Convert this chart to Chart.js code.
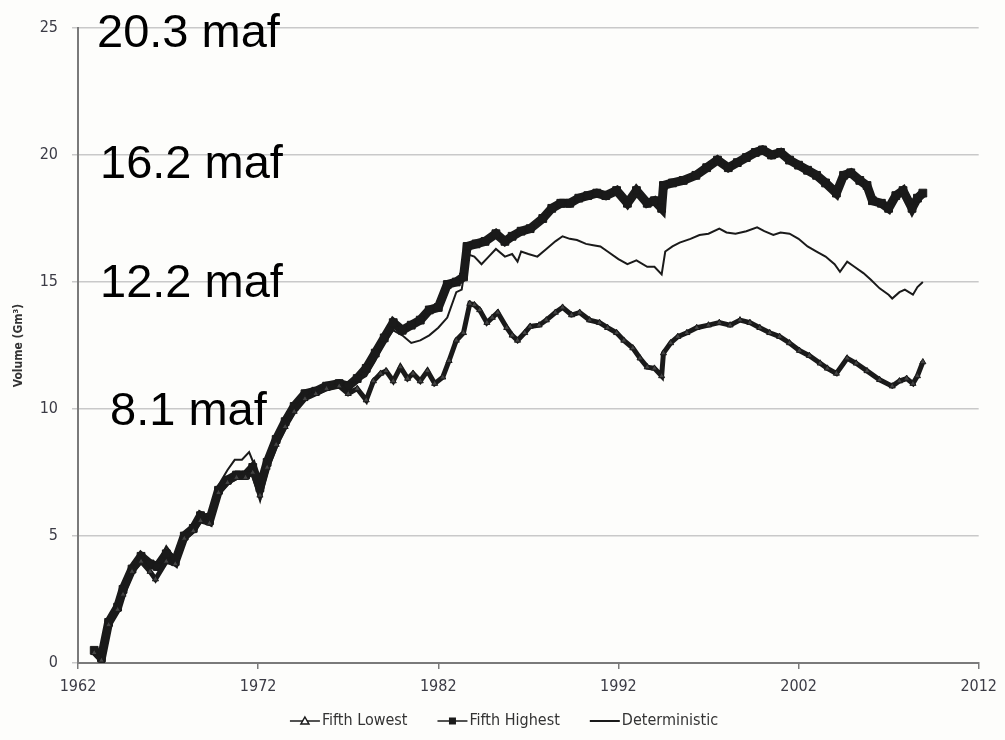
<!DOCTYPE html>
<html>
<head>
<meta charset="utf-8">
<script src="https://cdn.jsdelivr.net/npm/chart.js@4.4.1/dist/chart.umd.min.js"></script>
<style>
  html, body { margin: 0; padding: 0; background: #fdfdfb; }
  #wrap { width: 1005px; height: 740px; }
</style>
</head>
<body>
<div id="wrap"><canvas id="volume-chart" width="1005" height="740"></canvas></div>
<script>
// years and simulated reservoir volume (Gm3)
const lowYears = [1962.9,1963.3,1963.7,1964.2,1964.5,1965.0,1965.5,1966.0,1966.3,1966.9,1967.4,1967.9,1968.4,1968.8,1969.3,1969.8,1970.3,1970.8,1971.3,1971.7,1972.1,1972.5,1973.0,1973.5,1974.0,1974.6,1975.2,1975.8,1976.5,1977.0,1977.5,1978.0,1978.4,1978.8,1979.1,1979.5,1979.9,1980.3,1980.6,1981.0,1981.4,1981.8,1982.25,1982.6,1983.0,1983.4,1983.75,1984.0,1984.3,1984.7,1985.0,1985.3,1985.8,1986.1,1986.4,1986.8,1987.1,1987.6,1988.0,1988.5,1988.9,1989.4,1989.85,1990.4,1990.95,1991.4,1991.9,1992.3,1992.8,1993.2,1993.6,1994.0,1994.4,1994.5,1994.9,1995.3,1995.8,1996.35,1997.0,1997.6,1998.2,1998.75,1999.3,1999.85,2000.4,2000.95,2001.5,2002.05,2002.6,2003.2,2003.6,2004.1,2004.7,2005.2,2005.8,2006.5,2007.2,2007.6,2008.0,2008.35,2008.6,2008.9];
const lowVals = [0.4,0.1,1.5,2.1,2.7,3.6,4.0,3.6,3.3,4.0,3.9,4.9,5.2,5.6,5.5,6.7,7.1,7.3,7.3,7.5,6.6,7.7,8.6,9.3,9.9,10.4,10.6,10.8,10.9,10.6,10.8,10.35,11.1,11.4,11.5,11.1,11.65,11.2,11.4,11.1,11.5,11.0,11.25,11.9,12.7,13.0,14.15,14.1,13.9,13.4,13.6,13.8,13.2,12.9,12.7,13.0,13.25,13.3,13.5,13.8,14.0,13.7,13.8,13.5,13.4,13.2,13.0,12.7,12.4,12.0,11.65,11.6,11.3,12.2,12.6,12.85,13.0,13.2,13.3,13.4,13.3,13.5,13.4,13.2,13.0,12.85,12.6,12.3,12.1,11.8,11.6,11.4,12.0,11.8,11.5,11.15,10.9,11.1,11.2,11.0,11.3,11.85];

const highYears = [1962.9,1963.3,1963.7,1964.2,1964.5,1965.0,1965.5,1966.0,1966.4,1966.9,1967.4,1967.9,1968.4,1968.8,1969.3,1969.8,1970.3,1970.8,1971.3,1971.7,1972.1,1972.5,1973.0,1973.5,1974.0,1974.6,1975.2,1975.8,1976.5,1977.0,1977.5,1978.0,1978.5,1979.0,1979.5,1980.0,1980.5,1981.0,1981.5,1982.0,1982.5,1983.0,1983.4,1983.6,1984.1,1984.6,1985.2,1985.7,1986.1,1986.6,1987.1,1987.8,1988.3,1988.8,1989.3,1989.8,1990.3,1990.8,1991.3,1991.9,1992.5,1993.0,1993.6,1994.0,1994.4,1994.5,1995.0,1995.6,1996.3,1996.9,1997.5,1998.1,1998.6,1999.1,1999.6,2000.0,2000.5,2001.0,2001.5,2002.0,2002.5,2003.0,2003.5,2004.1,2004.5,2004.9,2005.4,2005.8,2006.1,2006.6,2007.0,2007.4,2007.8,2008.3,2008.6,2008.9];
const highVals = [0.5,0.2,1.6,2.2,2.9,3.7,4.2,3.9,3.8,4.3,4.0,5.0,5.3,5.8,5.6,6.8,7.2,7.4,7.4,7.7,6.9,7.9,8.8,9.5,10.1,10.6,10.7,10.9,11.0,10.9,11.2,11.6,12.2,12.8,13.4,13.1,13.3,13.5,13.9,14.0,14.9,15.0,15.2,16.4,16.5,16.6,16.9,16.6,16.8,17.0,17.1,17.5,17.9,18.1,18.1,18.3,18.4,18.5,18.4,18.6,18.1,18.6,18.1,18.2,17.9,18.8,18.9,19.0,19.2,19.5,19.8,19.5,19.7,19.9,20.1,20.2,20.0,20.1,19.8,19.6,19.4,19.2,18.9,18.5,19.2,19.3,19.0,18.8,18.2,18.1,17.9,18.4,18.6,17.9,18.3,18.5];

const detYears = [1962.9,1963.3,1963.7,1964.2,1964.5,1965.0,1965.5,1966.0,1966.4,1966.9,1967.4,1967.9,1968.4,1968.8,1969.3,1969.8,1970.3,1970.7,1971.1,1971.5,1971.9,1972.2,1972.6,1973.0,1973.5,1974.0,1974.6,1975.2,1975.8,1976.5,1977.0,1977.5,1978.0,1978.5,1979.0,1979.5,1980.0,1980.5,1981.0,1981.5,1982.0,1982.5,1983.0,1983.3,1983.6,1984.0,1984.4,1984.8,1985.2,1985.7,1986.1,1986.4,1986.6,1987.0,1987.5,1988.0,1988.5,1988.9,1989.3,1989.7,1990.2,1990.6,1991.0,1991.4,1992.0,1992.5,1993.0,1993.6,1994.0,1994.4,1994.6,1995.0,1995.4,1996.0,1996.5,1997.0,1997.6,1998.0,1998.5,1999.1,1999.7,2000.1,2000.6,2001.0,2001.5,2002.0,2002.5,2003.0,2003.5,2004.0,2004.3,2004.7,2005.1,2005.6,2006.0,2006.5,2007.0,2007.2,2007.6,2007.9,2008.35,2008.6,2008.9];
const detVals = [0.5,0.3,1.7,2.3,3.0,3.9,4.3,4.0,3.9,4.6,4.1,5.1,5.3,5.8,5.9,7.0,7.6,8.0,8.0,8.3,7.6,7.2,8.2,8.9,9.6,10.2,10.6,10.8,10.8,11.0,10.8,11.1,11.3,11.9,12.6,13.1,12.9,12.6,12.7,12.9,13.2,13.6,14.6,14.7,16.1,16.0,15.7,16.0,16.3,16.0,16.1,15.8,16.2,16.1,16.0,16.3,16.6,16.8,16.7,16.65,16.5,16.45,16.4,16.2,15.9,15.7,15.85,15.6,15.6,15.3,16.2,16.4,16.55,16.7,16.85,16.9,17.1,16.95,16.9,17.0,17.15,17.0,16.85,16.95,16.9,16.7,16.4,16.2,16.0,15.7,15.4,15.8,15.6,15.35,15.1,14.75,14.5,14.35,14.6,14.7,14.5,14.8,15.0];

const seriesNames = ['Fifth Lowest', 'Fifth Highest', 'Deterministic'];
const yearTicks = [1962, 1972, 1982, 1992, 2002, 2012];
const volumeTicks = [0, 5, 10, 15, 20, 25];
// conversions written over the grid: maf label at the Gm3 gridline
const mafLabels = ['20.3 maf', '16.2 maf', '12.2 maf', '8.1 maf'];
const mafAt = [25, 20, 15, 10];

const toPoints = (xs, ys) => xs.map((x, i) => ({ x: x, y: ys[i] }));

const tickFont = { family: "'Liberation Sans Narrow', 'Arial Narrow', 'DejaVu Sans Condensed', sans-serif", size: 16 };
const ink = '#1a1a1a';

// big "maf" text over the plot
const mafPlugin = {
  id: 'mafText',
  afterDraw(chart) {
    const ctx = chart.ctx;
    const ys = chart.scales.y;
    const dx = [97, 100, 100, 110];
    const dy = [19, 23, 15, 16];
    ctx.save();
    ctx.font = "47px 'Liberation Sans', Arial, sans-serif";
    ctx.fillStyle = '#000';
    ctx.textBaseline = 'alphabetic';
    mafLabels.forEach((t, i) => {
      ctx.fillText(t, dx[i], ys.getPixelForValue(mafAt[i]) + dy[i]);
    });
    ctx.restore();
  }
};

// excel-like legend: line sample with marker, then label
const legendPlugin = {
  id: 'lineLegend',
  afterDraw(chart) {
    const ctx = chart.ctx;
    ctx.save();
    ctx.font = "16px 'Liberation Sans Narrow', 'Arial Narrow', 'DejaVu Sans Condensed', sans-serif";
    const sample = 30, gap = 2, spacing = 30;
    const widths = seriesNames.map(n => sample + gap + ctx.measureText(n).width);
    const total = widths.reduce((a, b) => a + b, 0) + spacing * (seriesNames.length - 1);
    let x = 504 - total / 2;
    const y = 721;
    seriesNames.forEach((name, i) => {
      ctx.strokeStyle = ink;
      ctx.lineWidth = i === 2 ? 2 : 1.5;
      ctx.beginPath();
      ctx.moveTo(x, y);
      ctx.lineTo(x + sample, y);
      ctx.stroke();
      const cx = x + sample / 2;
      if (i === 0) {
        ctx.fillStyle = '#fff';
        ctx.beginPath();
        ctx.moveTo(cx, y - 4);
        ctx.lineTo(cx + 4, y + 3);
        ctx.lineTo(cx - 4, y + 3);
        ctx.closePath();
        ctx.fill();
        ctx.stroke();
      } else if (i === 1) {
        ctx.fillStyle = ink;
        ctx.fillRect(cx - 3.5, y - 3.5, 7, 7);
      }
      ctx.fillStyle = '#333';
      ctx.textBaseline = 'middle';
      ctx.fillText(name, x + sample + gap, y);
      x += widths[i] + spacing;
    });
    ctx.restore();
  }
};

const ctx = document.getElementById('volume-chart').getContext('2d');

const volumeChart = new Chart(ctx, {
  type: 'line',
  data: {
    datasets: [
      {
        label: seriesNames[0],
        data: toPoints(lowYears, lowVals),
        borderColor: ink,
        borderWidth: 5,
        pointStyle: 'triangle',
        pointRadius: 3.5,
        pointBackgroundColor: '#444',
        pointBorderColor: ink,
        pointBorderWidth: 1,
        tension: 0
      },
      {
        label: seriesNames[1],
        data: toPoints(highYears, highVals),
        borderColor: ink,
        borderWidth: 9,
        pointStyle: 'rect',
        pointRadius: 5.5,
        pointBackgroundColor: ink,
        pointBorderColor: ink,
        pointBorderWidth: 1,
        tension: 0
      },
      {
        label: seriesNames[2],
        data: toPoints(detYears, detVals),
        borderColor: ink,
        borderWidth: 2,
        pointRadius: 0,
        tension: 0
      }
    ]
  },
  options: {
    responsive: false,
    animation: false,
    layout: { padding: { left: 10, top: 28, right: 26, bottom: 0 } },
    plugins: {
      legend: { display: false },
      tooltip: { enabled: false }
    },
    scales: {
      x: {
        type: 'linear',
        min: yearTicks[0],
        max: yearTicks[yearTicks.length - 1],
        afterBuildTicks: (scale) => { scale.ticks = yearTicks.map(v => ({ value: v })); },
        afterFit: (scale) => { scale.height = 77; },
        ticks: {
          callback: (v) => String(v),
          font: tickFont,
          color: '#3b3b45',
          padding: 8,
          maxRotation: 0
        },
        grid: {
          drawOnChartArea: false,
          drawTicks: true,
          tickLength: 6,
          color: '#7a7a7a',
          lineWidth: 1.5
        },
        border: { color: '#7a7a7a', width: 2 }
      },
      y: {
        min: 0,
        max: 25,
        afterBuildTicks: (scale) => { scale.ticks = volumeTicks.map(v => ({ value: v })); },
        afterFit: (scale) => { scale.width = 68; },
        ticks: {
          font: tickFont,
          color: '#3b3b45',
          padding: 14
        },
        grid: {
          color: '#c9c9c9',
          lineWidth: 1.5,
          tickLength: 6
        },
        border: { color: '#7a7a7a', width: 2 },
        title: {
          display: true,
          text: 'Volume (Gm³)',
          font: { family: "'Liberation Sans Narrow', 'Arial Narrow', 'DejaVu Sans Condensed', sans-serif", size: 12, weight: 'bold' },
          color: '#333',
          padding: { top: 2, bottom: 0 }
        }
      }
    }
  },
  plugins: [mafPlugin, legendPlugin]
});
</script>
</body>
</html>
